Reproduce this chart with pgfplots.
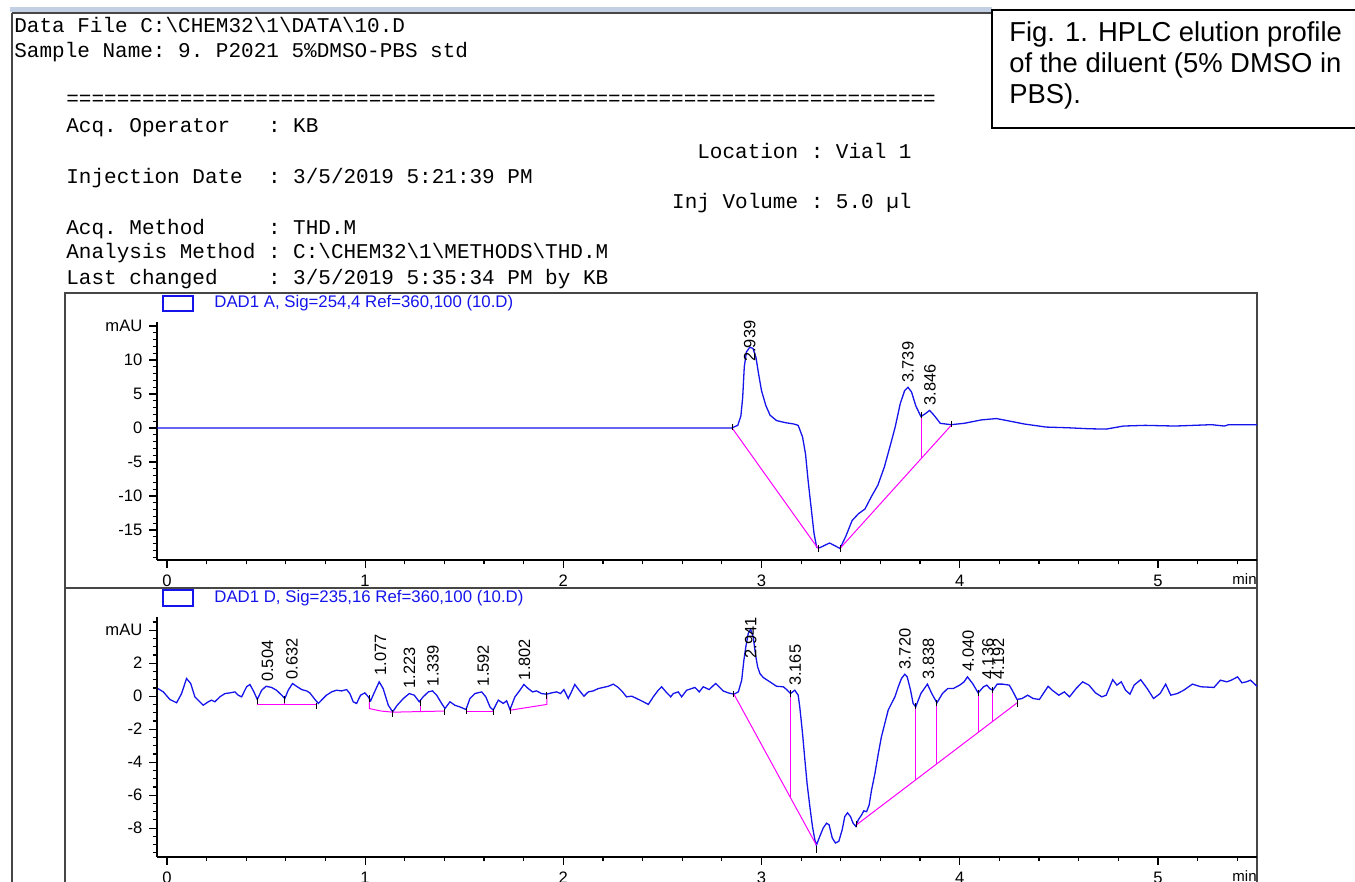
\documentclass[border=0pt]{standalone}
\usepackage{fontspec}
\setmainfont{Liberation Sans}
\setmonofont{Liberation Mono}
\usepackage{pgfplots}
\usepackage{pgfplotstable}
\pgfplotsset{compat=1.18}

\definecolor{trace}{RGB}{20,20,235}
\definecolor{base}{RGB}{255,0,255}
\definecolor{frame}{RGB}{70,70,70}
\definecolor{winbar}{RGB}{195,208,228}

% DAD1 A, 254 nm
\pgfplotstableread{
t v
-0.05 0
2.848 0
2.880 0.4
2.896 1.8
2.905 4.5
2.913 9.0
2.924 11.2
2.941 11.9
2.957 11.7
2.972 10.4
2.985 8.0
3.000 5.5
3.022 3.3
3.043 1.9
3.076 1.1
3.120 0.8
3.163 0.6
3.185 0.4
3.207 -1.3
3.222 -3.8
3.235 -7.7
3.250 -11.6
3.265 -15.5
3.278 -17.5
3.293 -17.6
3.315 -17.3
3.343 -16.9
3.370 -17.3
3.396 -17.7
3.424 -16.0
3.457 -13.6
3.489 -12.6
3.522 -11.9
3.554 -10.1
3.587 -8.4
3.620 -5.7
3.652 -2.3
3.674 0.1
3.700 3.6
3.722 5.5
3.739 6.0
3.757 5.3
3.778 3.3
3.804 1.7
3.826 2.1
3.848 2.6
3.870 1.9
3.902 0.7
3.957 0.5
4.022 0.7
4.109 1.2
4.185 1.4
4.239 1.1
4.326 0.6
4.435 0.15
4.543 0.05
4.652 -0.1
4.739 -0.15
4.826 0.3
4.935 0.4
5.087 0.3
5.270 0.5
5.335 0.3
5.357 0.5
5.500 0.5
}\sigA

\pgfplotstableread{
t v lab
2.941 9.7 2.939
3.739 6.6 3.739
3.850 3.3 3.846
}\labA

% DAD1 D, 235 nm
\pgfplotstableread{
t v
-0.045 0.46
-0.018 0.26
0.015 -0.20
0.049 -0.40
0.074 0.16
0.099 1.07
0.120 0.77
0.141 -0.04
0.183 -0.55
0.209 -0.34
0.225 -0.24
0.242 -0.34
0.267 -0.04
0.293 0.16
0.318 0.20
0.343 0.26
0.360 0.06
0.377 -0.04
0.402 0.57
0.419 0.71
0.439 0.26
0.456 -0.20
0.478 0.36
0.500 0.60
0.528 0.53
0.553 0.36
0.579 0.06
0.595 -0.14
0.612 0.36
0.634 0.77
0.654 0.60
0.680 0.40
0.705 0.32
0.721 0.20
0.747 -0.20
0.764 -0.44
0.780 -0.24
0.805 0.06
0.831 0.26
0.856 0.36
0.881 0.32
0.907 0.40
0.923 0.16
0.940 -0.34
0.957 -0.44
0.977 0.06
0.999 0.20
1.016 -0.04
1.028 -0.28
1.044 0.16
1.071 0.87
1.091 0.46
1.117 -0.55
1.139 -0.95
1.162 -0.55
1.193 -0.14
1.223 0.16
1.248 0.06
1.273 -0.34
1.293 -0.04
1.319 0.26
1.340 0.32
1.361 0.06
1.386 -0.44
1.403 -0.75
1.428 -0.34
1.453 -0.55
1.478 -0.65
1.509 -0.81
1.529 -0.14
1.554 0.16
1.588 0.26
1.609 -0.04
1.630 -0.65
1.646 -0.85
1.672 -0.24
1.697 -0.44
1.714 -0.28
1.731 -0.81
1.756 -0.04
1.781 0.36
1.801 0.71
1.823 0.46
1.845 0.26
1.865 0.32
1.890 0.16
1.915 0.12
1.941 0.20
1.966 0.26
1.986 0.16
2.003 0.40
2.025 -0.14
2.041 0.26
2.058 0.71
2.080 0.36
2.104 0.00
2.126 0.26
2.151 0.32
2.176 0.46
2.201 0.53
2.227 0.60
2.252 0.73
2.277 0.53
2.299 0.26
2.319 -0.04
2.345 0.00
2.370 -0.14
2.404 -0.34
2.429 -0.50
2.454 -0.04
2.479 0.36
2.496 0.57
2.518 0.26
2.542 -0.04
2.555 0.16
2.580 0.26
2.597 -0.04
2.622 0.36
2.647 0.46
2.664 0.53
2.686 0.26
2.706 0.57
2.736 0.40
2.753 0.60
2.769 0.77
2.786 0.57
2.806 0.32
2.832 0.20
2.861 0.12
2.883 0.26
2.900 0.97
2.911 2.18
2.921 3.00
2.933 3.80
2.945 4.05
2.958 3.60
2.970 2.50
2.980 1.80
2.992 1.37
3.009 1.13
3.042 0.87
3.076 0.60
3.110 0.57
3.127 0.40
3.146 0.16
3.168 0.36
3.185 0.06
3.193 -0.65
3.207 -2.26
3.219 -3.88
3.230 -5.30
3.244 -6.70
3.257 -7.90
3.269 -8.70
3.277 -9.03
3.294 -8.50
3.311 -8.00
3.328 -7.70
3.341 -7.80
3.357 -8.60
3.373 -8.90
3.390 -8.80
3.407 -8.10
3.420 -7.30
3.434 -7.07
3.449 -7.30
3.462 -7.70
3.476 -7.90
3.488 -7.50
3.505 -7.20
3.516 -6.95
3.530 -7.00
3.543 -6.60
3.555 -5.70
3.572 -4.70
3.589 -3.50
3.605 -2.46
3.622 -1.66
3.639 -0.85
3.656 -0.44
3.673 -0.04
3.690 0.57
3.706 1.07
3.723 1.33
3.735 1.17
3.752 0.36
3.765 -0.44
3.778 -0.65
3.804 0.16
3.837 0.73
3.859 0.16
3.885 -0.40
3.913 0.16
3.939 0.46
3.967 0.46
4.000 0.67
4.022 0.87
4.039 1.17
4.065 0.77
4.093 0.20
4.120 0.57
4.137 0.67
4.152 0.46
4.167 0.36
4.189 0.73
4.217 0.73
4.250 0.67
4.265 0.36
4.289 -0.20
4.315 -0.14
4.343 0.06
4.370 -0.14
4.402 -0.20
4.446 0.60
4.467 0.36
4.500 0.06
4.528 0.26
4.554 -0.04
4.587 0.46
4.620 0.87
4.652 0.67
4.685 0.20
4.717 -0.04
4.739 0.06
4.772 1.00
4.793 0.67
4.815 0.87
4.837 0.36
4.859 0.12
4.880 0.67
4.913 1.00
4.946 0.46
4.978 -0.14
5.011 0.16
5.039 0.73
5.065 0.06
5.098 0.16
5.130 0.36
5.174 0.73
5.217 0.57
5.283 0.53
5.315 0.97
5.348 0.87
5.370 0.97
5.402 1.17
5.424 0.81
5.446 0.87
5.467 0.97
5.500 0.60
}\sigD

\pgfplotstableread{
t v lab
0.507 0.85 0.504
0.631 1.00 0.632
1.078 1.25 1.077
1.224 0.44 1.223
1.342 0.59 1.339
1.596 0.59 1.592
1.804 0.95 1.802
2.946 2.28 2.941
3.170 0.60 3.165
3.724 1.58 3.720
3.843 1.00 3.838
4.043 1.47 4.040
4.143 0.97 4.136
4.196 1.00 4.192
}\labD

\pgfplotsset{
  hplc/.style={
    scale only axis, width=550pt,
    xmin=-0.05, xmax=5.5,
    axis x line*=bottom, axis y line*=left,
    axis line style={black, line width=0.7pt},
    tick align=outside,
    xtick={0,1,2,3,4,5}, xticklabels={0,1,2,3,4,5},
    minor xtick={0.2,0.4,...,5.41},
    major tick length=3.8pt, minor tick length=2.2pt,
    every tick/.style={black, line width=0.6pt},
    ticklabel style={font=\fontsize{8.3}{9}\selectfont},
    clip=false,
  },
  pk/.style={draw=none, mark=none, nodes near coords,
    point meta=explicit symbolic,
    nodes near coords style={rotate=90, anchor=west, inner sep=0pt,
      font=\fontsize{8.2}{9}\selectfont, text=black}},
  sig/.style={trace, line width=0.65pt, mark=none},
  bl/.style={base, line width=0.5pt, mark=none},
  tk/.style={black, only marks, mark=|, mark size=1.6pt, mark options={line width=0.5pt}},
}

\begin{document}
\begin{tikzpicture}[x=0.5pt,y=-0.5pt]
\path[use as bounding box] (0,0) rectangle (1355,882);

% window frame
\fill[winbar] (10,7) rectangle (992,12);
\draw[frame, line width=0.6pt] (12,13) -- (992,13);
\draw[frame, line width=1pt] (12,13) -- (12,882);

% report header
\begin{scope}[every node/.style={anchor=base west, inner sep=0pt,
    font=\ttfamily\fontsize{10.5}{12}\selectfont\frenchspacing}]
\node at (14,33) {Data File C:\textbackslash CHEM32\textbackslash 1\textbackslash DATA\textbackslash 10.D};
\node at (14,58) {Sample Name: 9. P2021 5\%DMSO-PBS std};
\node at (66,106) {=====================================================================};
\node at (66,133) {Acq. Operator~~~: KB};
\node at (66,184) {Injection Date~~: 3/5/2019 5:21:39 PM};
\node at (66,235) {Acq. Method~~~~~: THD.M};
\node at (66,259) {Analysis Method : C:\textbackslash CHEM32\textbackslash 1\textbackslash METHODS\textbackslash THD.M};
\node at (66,285) {Last changed~~~~: 3/5/2019 5:35:34 PM by KB};
\node[anchor=base east] at (912,159) {Location : Vial 1};
\node[anchor=base east] at (912,209) {Inj Volume : 5.0 µl};
\end{scope}

% caption box
\draw[black, line width=0.8pt, fill=white] (992,10) rectangle (1362,128);
\begin{scope}[every node/.style={anchor=base west, inner sep=0pt,
    font=\fontsize{13.7}{15.6}\selectfont}]
\node at (1009,42) {Fig. 1. HPLC elution profile};
\node at (1009,73) {of the diluent (5\% DMSO in};
\node at (1009,104) {PBS).};
\end{scope}

% panel frames
\draw[frame, line width=1pt] (65,293) rectangle (1257,588);
\draw[frame, line width=1pt] (65,588) -- (65,884) (1257,588) -- (1257,884);

% signal captions
\draw[trace, line width=0.7pt] (163,296) rectangle (193,311);
\node[anchor=west, inner sep=0pt, text=trace, font=\fontsize{8.4}{9}\selectfont] at (214,303.5) {DAD1 A, Sig=254,4 Ref=360,100 (10.D)};
\draw[trace, line width=0.7pt] (163,590) rectangle (193,606);
\node[anchor=west, inner sep=0pt, text=trace, font=\fontsize{8.4}{9}\selectfont] at (214,598) {DAD1 D, Sig=235,16 Ref=360,100 (10.D)};

% ---- top: 254 nm
\begin{axis}[hplc, at={(78.5pt,-280pt)}, anchor=south west, height=119pt,
    ymin=-19.4, ymax=15.6,
    ytick={-15,-10,-5,0,5,10,15}, yticklabels={-15,-10,-5,0,5,10,mAU},
    minor ytick={-19,...,14}]
  \addplot[sig] table[x=t, y=v] {\sigA};
  \addplot[bl] coordinates {(2.852,0) (3.285,-17.7)};
  \addplot[bl] coordinates {(3.396,-17.7) (3.957,0.4)};
  \addplot[bl] coordinates {(3.809,1.7) (3.809,-4.4)};
  \addplot[tk] coordinates {(2.852,0.2) (3.285,-17.7) (3.396,-17.7) (3.809,1.9) (3.957,0.6)};
  \addplot[pk] table[x=t, y=v, meta=lab] {\labA};
  \node[anchor=north east, inner sep=0pt, font=\fontsize{7.5}{9}\selectfont, yshift=-6.5pt] at (rel axis cs:1,0) {min};
\end{axis}

% ---- bottom: 235 nm
\begin{axis}[hplc, at={(78.5pt,-428.5pt)}, anchor=south west, height=120pt,
    ymin=-9.75, ymax=4.8,
    ytick={-8,-6,-4,-2,0,2,4}, yticklabels={-8,-6,-4,-2,0,2,mAU},
    minor ytick={-9.5,-9,...,4.6}]
  \addplot[sig] table[x=t, y=v] {\sigD};
  \addplot[bl] coordinates {(0.456,-0.5) (0.755,-0.5)};
  \addplot[bl] coordinates {(0.593,-0.14) (0.593,-0.5)};
  \addplot[bl] coordinates {(1.021,-0.1) (1.021,-0.75) (1.08,-0.9) (1.139,-0.97) (1.402,-0.9)};
  \addplot[bl] coordinates {(1.281,-0.34) (1.281,-0.95)};
  \addplot[bl] coordinates {(1.511,-0.9) (1.646,-0.9)};
  \addplot[bl] coordinates {(1.732,-0.85) (1.917,-0.5) (1.917,0.1)};
  \addplot[bl] coordinates {(2.861,0.12) (3.277,-9.03)};
  \addplot[bl] coordinates {(3.146,0.16) (3.146,-6.1)};
  \addplot[bl] coordinates {(3.479,-7.8) (4.29,-0.4)};
  \addplot[bl] coordinates {(3.778,-0.65) (3.778,-5.07)};
  \addplot[bl] coordinates {(3.885,-0.4) (3.885,-4.1)};
  \addplot[bl] coordinates {(4.093,0.2) (4.093,-2.2)};
  \addplot[bl] coordinates {(4.167,0.36) (4.167,-1.52)};
  \addplot[tk] coordinates {(0.456,-0.3) (0.593,-0.2) (0.755,-0.6) (1.021,-0.15)
    (1.139,-1.05) (1.281,-0.4) (1.402,-0.95) (1.511,-0.9) (1.646,-0.95) (1.732,-0.9)
    (1.917,0.05) (2.861,0.12) (3.146,0.16) (3.277,-9.3) (3.479,-7.75) (3.778,-0.6)
    (3.885,-0.4) (4.093,0.2) (4.167,0.36) (4.29,-0.45)};
  \addplot[pk] table[x=t, y=v, meta=lab] {\labD};
  \node[anchor=north east, inner sep=0pt, font=\fontsize{7.5}{9}\selectfont, yshift=-6.5pt] at (rel axis cs:1,0) {min};
\end{axis}
\end{tikzpicture}
\end{document}
